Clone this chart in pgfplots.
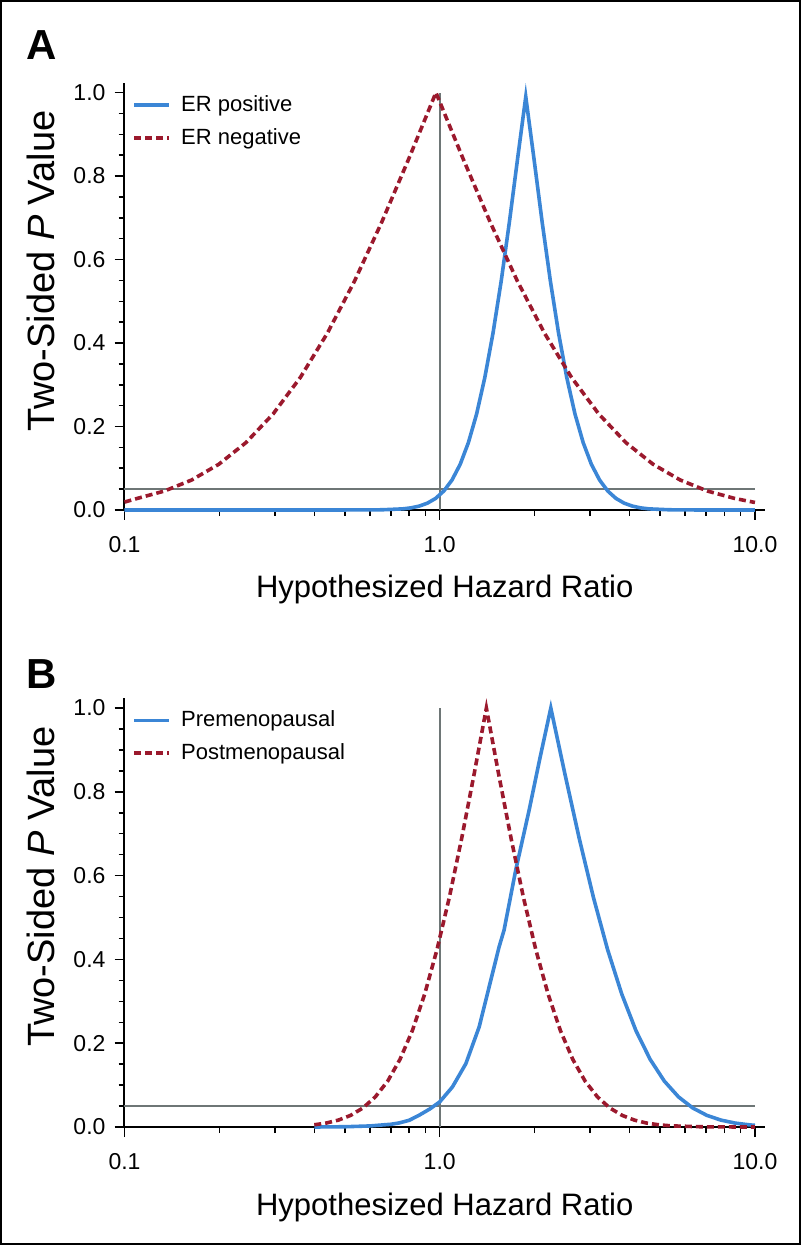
\documentclass[border=0pt]{standalone}
\usepackage{pgfplots}
\pgfplotsset{compat=1.18}
\usepackage{fontspec}
\setmainfont{Liberation Sans}
\definecolor{curveblue}{RGB}{59,134,214}
\definecolor{curvered}{RGB}{155,25,45}
\definecolor{refgray}{RGB}{110,118,118}

% p-value functions
\pgfplotstableread{
x p
0.1 0
0.5662 0.0001
0.6577 0.0005
0.7638 0.0027
0.8110 0.0051
0.8610 0.0093
0.9141 0.0164
0.9705 0.0278
1.0304 0.0455
1.0940 0.0719
1.1614 0.1096
1.2331 0.1615
1.3092 0.2301
1.3900 0.3173
1.4757 0.4237
1.5668 0.5485
1.6630 0.6892
1.7660 0.8415
1.8750 0.9900
1.9907 0.8415
2.1135 0.6892
2.2439 0.5485
2.3823 0.4237
2.5293 0.3173
2.6853 0.2301
2.8510 0.1615
3.0269 0.1096
3.2137 0.0719
3.4119 0.0455
3.6224 0.0278
3.8459 0.0164
4.0832 0.0093
4.3351 0.0051
4.6026 0.0027
5.3456 0.0005
6.2087 0.0001
10 0
}\erpos
\pgfplotstableread{
x p
0.1 0.0190
0.1099 0.0278
0.1340 0.0455
0.1634 0.0719
0.1992 0.1096
0.2429 0.1615
0.2961 0.2301
0.3611 0.3173
0.4402 0.4237
0.5368 0.5485
0.6544 0.6892
0.7978 0.8415
0.9727 1.0000
1.1860 0.8415
1.4462 0.6892
1.7630 0.5485
2.1490 0.4237
2.6200 0.3173
3.1950 0.2301
3.8950 0.1615
4.7500 0.1096
5.7900 0.0719
7.0600 0.0455
8.6080 0.0278
10 0.0180
}\erneg
\pgfplotstableread{
x p
0.4 0.0000
0.5 0.0006
0.6 0.0025
0.7 0.0065
0.743 0.0096
0.8 0.0160
0.86 0.0280
0.93 0.0430
1.0 0.0600
1.097 0.0955
1.210 0.1510
1.334 0.2390
1.434 0.3340
1.543 0.4300
1.600 0.4700
1.742 0.6130
1.921 0.7560
2.080 0.8810
2.251 1.0000
2.4969 0.8415
2.7694 0.6892
3.0719 0.5485
3.4074 0.4237
3.7793 0.3173
4.1917 0.2301
4.6496 0.1615
5.1568 0.1096
5.7202 0.0719
6.3443 0.0455
7.0371 0.0278
7.8051 0.0164
8.6574 0.0093
9.6030 0.0051
10 0.0040
}\premeno
\pgfplotstableread{
x p
0.4 0.0053
0.4357 0.0093
0.4769 0.0164
0.5218 0.0278
0.5709 0.0455
0.6247 0.0719
0.6839 0.1096
0.7482 0.1615
0.8188 0.2301
0.8960 0.3173
0.9804 0.4237
1.0730 0.5485
1.1740 0.6892
1.2850 0.8415
1.4060 1.0000
1.5385 0.8415
1.6838 0.6892
1.8425 0.5485
2.0166 0.4237
2.2065 0.3173
2.4144 0.2301
2.6425 0.1615
2.8914 0.1096
3.1645 0.0719
3.4627 0.0455
3.7888 0.0278
4.1467 0.0164
4.5374 0.0093
4.9659 0.0051
5.4325 0.0027
6.8073 0.0005
8.5310 0.0001
10 0
}\postmeno

\pgfplotsset{
  pval/.style={
    scale only axis, width=320.25pt,
    xmin=0.1, xmax=10.76, ymin=0,
    axis lines=left, axis line style={-, line width=1pt, black},
    x axis line style={line width=1.3pt},
    clip=false,
    tick align=outside, tick style={black, line width=0.75pt},
    major tick length=5pt, minor tick length=3pt,
    xtick={0.1,1,10}, xticklabels={0.1,1.0,10.0},
    minor xtick={0.2,0.3,0.4,0.5,0.6,0.7,0.8,0.9,2,3,4,5,6,7,8,9},
    ytick={0,0.2,0.4,0.6,0.8,1}, yticklabels={0.0,0.2,0.4,0.6,0.8,1.0},
    minor ytick={0.05,0.1,0.15,0.25,0.3,0.35,0.45,0.5,0.55,0.65,0.7,0.75,0.85,0.9,0.95},
    ticklabel style={font=\fontsize{11.5}{13}\selectfont},
    xticklabel style={yshift=-4.5pt},
    yticklabel style={xshift=-1pt},
    xlabel={Hypothesized Hazard Ratio},
    xlabel style={font=\fontsize{15.5}{18}\selectfont, at={(axis description cs:0.5,0)}, anchor=base, yshift=-44pt},
    ylabel={Two-Sided \textit{P} Value},
    ylabel style={font=\fontsize{19}{22}\selectfont, at={(axis description cs:-0.131,0.56)}, anchor=center},
    legend cell align=left,
    legend image code/.code={\draw[##1] (0pt,0pt) -- (17.5pt,0pt);},
    legend style={draw=none, fill=none, at={(axis description cs:0.012,0.971)}, anchor=north west,
      font=\fontsize{11}{12}\selectfont, row sep=7pt, inner sep=0pt,
      nodes={inner sep=0pt, outer sep=0pt},
      /tikz/every odd column/.style={column sep=5pt}},
  },
  bluecurve/.style={curveblue, line width=1.8pt},
  redcurve/.style={curvered, line width=1.8pt, dash pattern=on 3.5pt off 2pt},
  refline/.style={refgray, line width=0.8pt, forget plot},
}

\begin{document}
\begin{tikzpicture}
\draw[line width=1pt] (0.5pt,0.5pt) rectangle (400pt,622pt);
\node[font=\bfseries\fontsize{21}{21}\selectfont, anchor=base west, inner sep=0pt] at (13pt,592.5pt) {A};
\node[font=\bfseries\fontsize{21}{21}\selectfont, anchor=base west, inner sep=0pt] at (13pt,278pt) {B};

\begin{semilogxaxis}[pval, at={(62.25pt,367.5pt)}, anchor=south west, height=213.5pt, ymax=1.023]
\addplot[refline] coordinates {(1,0) (1,1)};
\addplot[refline] coordinates {(0.1,0.05) (10,0.05)};
\addplot[bluecurve] table[x=x, y=p] {\erpos};
\addlegendentry{ER positive}
\addplot[redcurve] table[x=x, y=p] {\erneg};
\addlegendentry{ER negative}
\end{semilogxaxis}

\begin{semilogxaxis}[pval, at={(62.25pt,59pt)}, anchor=south west, height=214.5pt, ymax=1.024]
\addplot[refline] coordinates {(1,0) (1,1)};
\addplot[refline] coordinates {(0.1,0.05) (10,0.05)};
\addplot[bluecurve] table[x=x, y=p] {\premeno};
\addlegendentry{Premenopausal}
\addplot[redcurve] table[x=x, y=p] {\postmeno};
\addlegendentry{Postmenopausal}
\end{semilogxaxis}
\end{tikzpicture}
\end{document}
